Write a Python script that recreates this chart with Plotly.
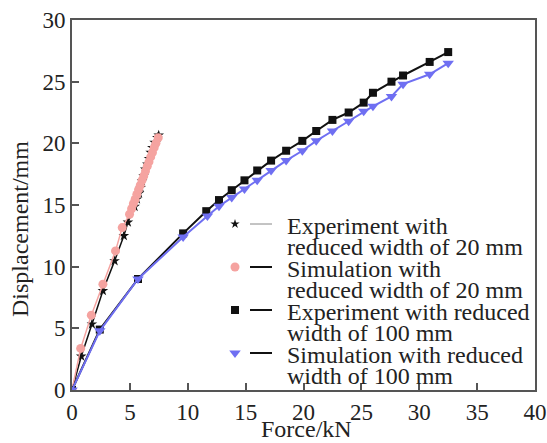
import plotly.graph_objects as go

# ---- data ----
exp20_force = [0, 0.8, 1.72, 2.67, 3.68, 4.48, 4.83, 5.41, 5.61, 5.79, 5.93, 6.05, 6.19,
               6.33, 6.51, 6.65, 6.8, 6.94, 7.14, 7.37, 7.49]
exp20_disp = [0, 2.73, 5.34, 8.04, 10.47, 12.5, 13.6, 14.87, 15.47, 15.95, 16.41, 16.95, 17.35,
              17.9, 18.3, 18.76, 19.25, 19.65, 20.06, 20.46, 20.65]

sim20_force = [0, 0.75, 1.67, 2.67, 3.76, 4.34, 4.97, 5.15, 5.3, 5.45, 5.6, 5.75, 5.9, 6.05,
               6.2, 6.35, 6.5, 6.65, 6.8, 6.95, 7.1, 7.25, 7.45]
sim20_disp = [0, 3.37, 6.07, 8.58, 11.28, 13.17, 14.25, 14.7, 15.1, 15.45, 15.85, 16.25, 16.6,
              17.0, 17.35, 17.75, 18.15, 18.5, 18.9, 19.25, 19.65, 20.0, 20.45]

exp100_force = [0, 2.4, 5.7, 9.6, 11.6, 12.7, 13.8, 14.9, 16.0, 17.2, 18.5, 19.9, 21.1, 22.5,
                23.9, 25.2, 26.0, 27.6, 28.6, 30.9, 32.5]
exp100_disp = [0, 4.9, 9.0, 12.7, 14.5, 15.4, 16.2, 17.0, 17.8, 18.6, 19.4, 20.2, 21.0, 21.9,
               22.5, 23.3, 24.1, 25.0, 25.5, 26.6, 27.4]

sim100_force = [0, 2.4, 5.7, 9.6, 11.7, 12.7, 13.8, 14.9, 16.0, 17.2, 18.5, 19.9, 21.1, 22.5,
                23.9, 25.2, 26.0, 27.6, 28.6, 30.9, 32.5]
sim100_disp = [0, 4.8, 9.0, 12.4, 14.1, 14.9, 15.6, 16.3, 17.0, 17.8, 18.6, 19.4, 20.2, 21.0,
               21.8, 22.6, 23.0, 23.8, 24.8, 25.6, 26.5]

legend_labels = [
    ["Experiment with", "reduced width of 20 mm"],
    ["Simulation with", "reduced width of 20 mm"],
    ["Experiment with reduced", "width of 100 mm"],
    ["Simulation with reduced", "width of 100 mm"],
]
x_ticks = [0, 5, 10, 15, 20, 25, 30, 35, 40]
y_ticks = [0, 5, 10, 15, 20, 25, 30]

FONT = "Liberation Serif, Times New Roman, serif"
BLACK = "#111111"
PINK = "#f5a3a0"
BLUE = "#6f6ff2"
AXIS = "#555555"
TXT = "#222222"

fig = go.Figure()

fig.add_trace(go.Scatter(x=exp20_force, y=exp20_disp, mode="lines+markers",
                         line=dict(color=BLACK, width=1.5),
                         marker=dict(symbol="star", size=8, color=BLACK)))
fig.add_trace(go.Scatter(x=sim20_force, y=sim20_disp, mode="lines+markers",
                         line=dict(color=PINK, width=1.5),
                         marker=dict(symbol="circle", size=9, color=PINK)))
fig.add_trace(go.Scatter(x=exp100_force, y=exp100_disp, mode="lines+markers",
                         line=dict(color=BLACK, width=2),
                         marker=dict(symbol="square", size=8, color=BLACK)))
fig.add_trace(go.Scatter(x=sim100_force, y=sim100_disp, mode="lines+markers",
                         line=dict(color=BLUE, width=2),
                         marker=dict(symbol="triangle-down", size=10, color=BLUE)))

# ---- custom legend (overlay axes in paper fractions) ----
L, R, T, B = 72, 535, 20, 390
W, H = 547, 443
def px(x):
    return (x - L) / (R - L)
def py(y):
    return (B - y) / (B - T)

entry_y = [224, 267, 310, 353]
sym = ["star", "circle", "square", "triangle-down"]
cols = [BLACK, PINK, BLACK, BLUE]
sizes = [7, 9, 8, 10]
for i in range(4):
    fig.add_trace(go.Scatter(x=[px(235)], y=[py(entry_y[i])], mode="markers",
                             xaxis="x2", yaxis="y2",
                             marker=dict(symbol=sym[i], size=sizes[i], color=cols[i])))
    fig.add_shape(type="line", xref="paper", yref="paper",
                  x0=px(250), x1=px(272), y0=py(entry_y[i]), y1=py(entry_y[i]),
                  line=dict(color="#888888" if i == 0 else BLACK, width=1 if i == 0 else 2))
    for j, txt in enumerate(legend_labels[i]):
        fig.add_annotation(text=txt, xref="paper", yref="paper",
                           x=px(285), y=py(entry_y[i] + 2 + j * 21.3),
                           xanchor="left", yanchor="middle", showarrow=False,
                           font=dict(family=FONT, size=24, color=TXT))

fig.add_annotation(text="Displacement/mm", xref="paper", yref="paper",
                   x=px(20), y=py(229), textangle=-90, showarrow=False,
                   xanchor="center", yanchor="middle",
                   font=dict(family=FONT, size=24, color=TXT))
fig.add_annotation(text="Force/kN", xref="paper", yref="paper",
                   x=px(306), y=py(429), showarrow=False,
                   xanchor="center", yanchor="middle",
                   font=dict(family=FONT, size=24, color=TXT))

axis_common = dict(showline=True, linecolor=AXIS, linewidth=2, mirror=True,
                   ticks="inside", ticklen=7, tickwidth=1.5, tickcolor=AXIS,
                   showgrid=False, zeroline=False, automargin=False,
                   tickfont=dict(family=FONT, size=23, color=TXT))

fig.update_layout(
    width=W, height=H,
    margin=dict(l=L, r=W - R, t=T, b=H - B, autoexpand=False),
    paper_bgcolor="white", plot_bgcolor="white",
    showlegend=False,
    xaxis=dict(range=[0, 40], tickvals=x_ticks, **axis_common),
    yaxis=dict(range=[0, 30], tickvals=y_ticks, **axis_common),
    xaxis2=dict(range=[0, 1], overlaying="x", visible=False),
    yaxis2=dict(range=[0, 1], overlaying="y", visible=False),
)

fig.write_html("out.html", config={"displayModeBar": False},
               post_script="document.body.style.margin='0px';document.body.style.overflow='hidden';")
